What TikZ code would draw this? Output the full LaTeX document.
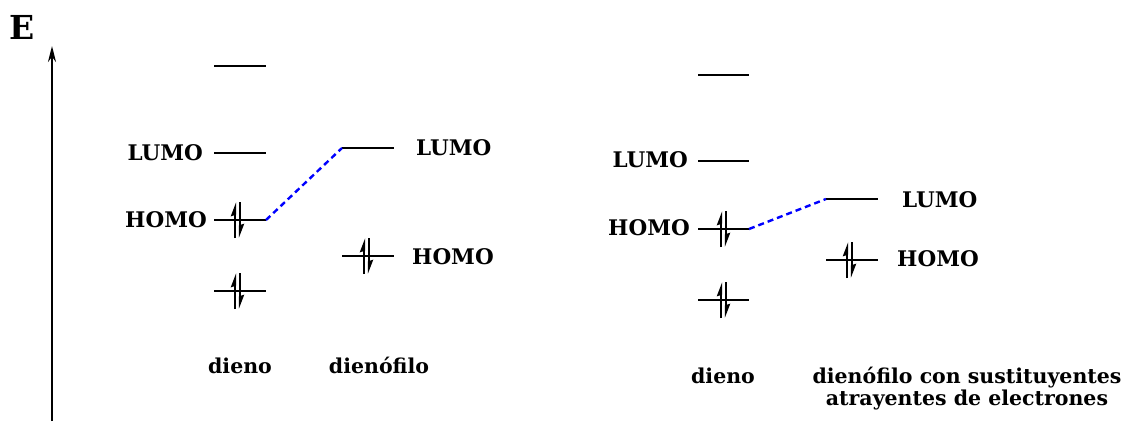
\documentclass[tikz,border=0pt]{standalone}
\usepackage{fontspec}
\setmainfont{DejaVu Serif}
\usetikzlibrary{arrows.meta}
\tikzset{
  lvl/.style={line width=1.7pt},
  lbl/.style={font=\fontsize{21.5}{24}\selectfont\bfseries, inner sep=0pt},
  sub/.style={font=\fontsize{20.5}{22}\selectfont\bfseries, inner sep=0pt, align=center},
  spin/.style={line width=2.2pt, -{Stealth[left, length=11pt, width=8pt, inset=1pt]}},
  link/.style={blue, line width=2.4pt, dash pattern=on 6pt off 4pt},
}
\newcommand{\epair}[2]{%
  \draw[spin] ({#1-2.5},{#2+18}) -- ({#1-2.5},{#2-18});
  \draw[spin] ({#1+2.5},{#2-18}) -- ({#1+2.5},{#2+18});}
\begin{document}
\begin{tikzpicture}[x=1pt,y=-1pt]
\useasboundingbox (0,0) rectangle (1127,421);
% axis
\coordinate (ax0) at (52,421);
\coordinate (ax1) at (52,46);
\draw[line width=2pt, -{Stealth[length=16pt, width=8pt]}] (ax0) -- (ax1);
\node[font=\fontsize{33}{36}\selectfont\bfseries, inner sep=0pt, anchor=base] (E) at (22,39) {E};
% left diene
\foreach \n/\y in {a1/66, a2/153, a3/220, a4/291}{
  \coordinate (\n l) at (214,\y); \coordinate (\n r) at (266,\y);
  \draw[lvl] (\n l) -- (\n r);}
\epair{237.5}{220}
\epair{237.5}{291}
\node[lbl, anchor=east] (aL) at (203,153) {LUMO};
\node[lbl, anchor=east] (aH) at (207,220) {HOMO};
% left dienophile
\foreach \n/\y in {b1/148, b2/256}{
  \coordinate (\n l) at (342,\y); \coordinate (\n r) at (394,\y);
  \draw[lvl] (\n l) -- (\n r);}
\epair{366.5}{256}
\node[lbl, anchor=west] (bL) at (416,148) {LUMO};
\node[lbl, anchor=west] (bH) at (412,257) {HOMO};
\draw[link] (a3r) -- (b1l);
\node[sub, anchor=base] (d1) at (240,373) {dieno};
\node[sub, anchor=base] (f1) at (379,373) {dienófilo};
% right diene
\foreach \n/\y in {c1/75, c2/161, c3/229, c4/300}{
  \coordinate (\n l) at (698,\y); \coordinate (\n r) at (749,\y);
  \draw[lvl] (\n l) -- (\n r);}
\epair{723.5}{229}
\epair{723.5}{300}
\node[lbl, anchor=east] (cL) at (688,160) {LUMO};
\node[lbl, anchor=east] (cH) at (690,228) {HOMO};
% right dienophile
\foreach \n/\y in {e1/199, e2/260}{
  \coordinate (\n l) at (826,\y); \coordinate (\n r) at (878,\y);
  \draw[lvl] (\n l) -- (\n r);}
\epair{849.5}{260}
\node[lbl, anchor=west] (eL) at (902,200) {LUMO};
\node[lbl, anchor=west] (eH) at (897,259) {HOMO};
\draw[link] (c3r) -- (e1l);
\node[sub, anchor=base] (d2) at (723,383) {dieno};
\node[sub, anchor=base] (f2) at (967,383) {dienófilo con sustituyentes};
\node[sub, anchor=base] (f3) at (967,405) {atrayentes de electrones};
\end{tikzpicture}
\end{document}
